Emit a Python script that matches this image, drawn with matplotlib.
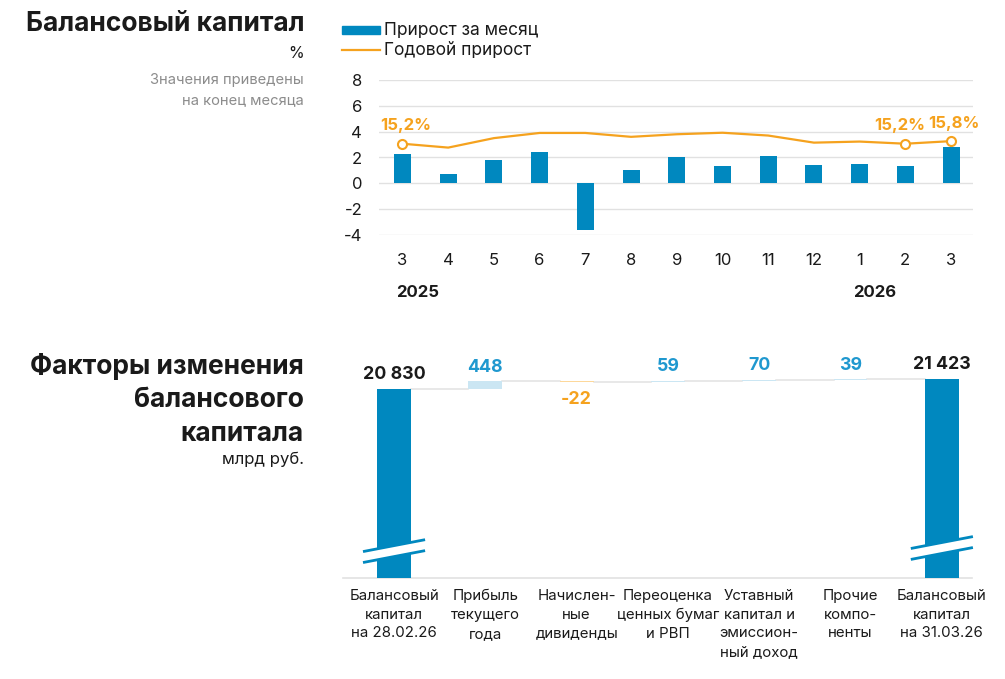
import matplotlib
matplotlib.use('Agg')
import matplotlib.pyplot as plt
from matplotlib.patches import Rectangle, Polygon
from matplotlib.lines import Line2D
import matplotlib.transforms as mtransforms

plt.rcParams['font.family'] = ['Inter', 'DejaVu Sans']

# ---------------- data ----------------
months = ['3', '4', '5', '6', '7', '8', '9', '10', '11', '12', '1', '2', '3']
monthly_growth = [2.25, 0.75, 1.8, 2.4, -3.6, 1.0, 2.0, 1.35, 2.15, 1.4, 1.5, 1.35, 2.85]
annual_growth = [15.2, 14.3, 16.5, 17.7, 17.7, 16.8, 17.4, 17.75, 17.1, 15.45, 15.7, 15.2, 15.8]
years = ['2025', '2026']
year_start_idx = [0, 10]
labeled_points = [0, 11, 12]
y_ticks = [-4, -2, 0, 2, 4, 6, 8]

factor_labels = [
    'Балансовый\nкапитал\nна 28.02.26',
    'Прибыль\nтекущего\nгода',
    'Начислен-\nные\nдивиденды',
    'Переоценка\nценных бумаг\nи РВП',
    'Уставный\nкапитал и\nэмиссион-\nный доход',
    'Прочие\nкомпо-\nненты',
    'Балансовый\nкапитал\nна 31.03.26',
]
factor_values = [20830, 448, -22, 59, 70, 39, 21423]
factor_is_total = [True, False, False, False, False, False, True]

# ---------------- style ----------------
BLUE = '#0088BF'
ORANGE = '#F5A21E'
LIGHT_BLUE = '#CBE6F3'
LIGHT_ORANGE = '#FDD89B'
LABEL_BLUE = '#1F98CF'
GRID = '#E1E1E1'
TXT = '#1A1A1A'
GREY = '#8C8C8C'

W, H = 1005, 679
fig = plt.figure(figsize=(W / 100, H / 100), dpi=100)


def fx(x):
    return x / W


def fy(y):
    return 1 - y / H


# ---------------- left titles ----------------
fig.text(fx(304), fy(24), 'Балансовый капитал', ha='right', va='center',
         fontsize=19, fontweight='bold', color=TXT)
fig.text(fx(304), fy(54), '%', ha='right', va='center', fontsize=11.5, color=TXT)
fig.text(fx(304), fy(80), 'Значения приведены', ha='right', va='center',
         fontsize=10.6, color=GREY)
fig.text(fx(304), fy(100), 'на конец месяца', ha='right', va='center',
         fontsize=10.6, color=GREY)

for txt, yy in zip(['Факторы изменения', 'балансового', 'капитала'], [366, 400, 434]):
    fig.text(fx(304), fy(yy), txt, ha='right', va='center',
             fontsize=19, fontweight='bold', color=TXT)
fig.text(fx(304), fy(459), 'млрд руб.', ha='right', va='center', fontsize=12, color=TXT)

# ---------------- legend ----------------
fig.patches.append(Rectangle((fx(342), fy(34)), fx(380) - fx(342), fy(26) - fy(34),
                             transform=fig.transFigure, color=BLUE))
fig.text(fx(384), fy(30), 'Прирост за месяц', ha='left', va='center', fontsize=12.5, color=TXT)
fig.lines.append(Line2D([fx(342), fx(380)], [fy(50), fy(50)], transform=fig.transFigure,
                        color=ORANGE, lw=1.6))
fig.text(fx(384), fy(50), 'Годовой прирост', ha='left', va='center', fontsize=12.5, color=TXT)

# ---------------- top chart ----------------
ax = fig.add_axes([fx(379), fy(235), fx(973) - fx(379), fy(80) - fy(235)])
x = list(range(len(months)))
ax.bar(x, monthly_growth, width=0.37, color=BLUE, zorder=3)
ax.set_xlim(-0.514, 12.48)
ax.set_ylim(-4, 8)
ax.set_yticks(y_ticks)
ax.set_yticklabels([str(t) for t in y_ticks])
ax.set_xticks(x)
ax.set_xticklabels(months)
ax.yaxis.grid(True, color=GRID, lw=1, zorder=0)
ax.set_axisbelow(True)
for s in ax.spines.values():
    s.set_visible(False)
ax.tick_params(axis='y', length=0, pad=12, labelsize=12, labelcolor=TXT)
ax.tick_params(axis='x', length=0, pad=13, labelsize=12, labelcolor=TXT)

trans = mtransforms.blended_transform_factory(ax.transData, ax.transAxes)
for yr, idx in zip(years, year_start_idx):
    ax.text(idx - 0.15, -0.368, yr, transform=trans, ha='left', va='center',
            fontsize=12, fontweight='bold', color=TXT)

ax2 = ax.twinx()
ax2.set_ylim(-6, 30)
ax2.axis('off')
ax2.plot(x, annual_growth, color=ORANGE, lw=1.6, zorder=4)
ax2.plot([x[i] for i in labeled_points], [annual_growth[i] for i in labeled_points],
         'o', ms=6.5, mfc='white', mec=ORANGE, mew=1.5, zorder=5)
label_dx = [2, -4, 2]
for i, dx in zip(labeled_points, label_dx):
    ax2.annotate(f'{annual_growth[i]:.1f}%'.replace('.', ','), (x[i], annual_growth[i]),
                 xytext=(dx, 13), textcoords='offset points', ha='center', va='center',
                 fontsize=12, fontweight='bold', color=ORANGE)

# ---------------- waterfall ----------------
bx = fig.add_axes([fx(343), fy(578), fx(972) - fx(343), fy(340) - fy(578)])
bx.set_xlim(-0.559, 6.33)
bx.set_ylim(9622, 23736)
for s in ['top', 'left', 'right']:
    bx.spines[s].set_visible(False)
bx.spines['bottom'].set_color(GRID)
bx.spines['bottom'].set_linewidth(1.2)
bx.set_yticks([])
bx.set_xticks(range(len(factor_labels)))
bx.set_xticklabels(factor_labels, fontsize=10.8, color=TXT, linespacing=1.42, va='top')
bx.tick_params(axis='x', length=0, pad=8)

bw = 0.37
cum = 0
levels = []
for i, (v, tot) in enumerate(zip(factor_values, factor_is_total)):
    if tot:
        bx.bar(i, v, width=bw, color=BLUE, zorder=3)
        cum = v
        bx.annotate(f'{v:,}'.replace(',', ' '), (i, v), xytext=(0, 10.5),
                    textcoords='offset points', ha='center', va='center',
                    fontsize=12.8, fontweight='bold', color=TXT)
    else:
        col = LIGHT_BLUE if v >= 0 else LIGHT_ORANGE
        bx.bar(i, v, bottom=cum, width=bw, color=col, zorder=3)
        if v >= 0:
            bx.annotate(f'{v}', (i, cum + v), xytext=(0, 10), textcoords='offset points',
                        ha='center', va='center', fontsize=12.8, fontweight='bold',
                        color=LABEL_BLUE)
        else:
            bx.annotate(f'{v}', (i, cum + v), xytext=(0, -13),
                        textcoords='offset points', ha='center', va='center',
                        fontsize=12.8, fontweight='bold', color=ORANGE)
        cum = cum + v
    levels.append(cum)

for i in range(len(factor_values) - 1):
    bx.plot([i + bw / 2, i + 1 - bw / 2], [levels[i], levels[i]], color=GRID, lw=1.1, zorder=2)

# axis break marks on total bars
btrans = mtransforms.blended_transform_factory(bx.transData, bx.transAxes)
for i, yc in [(0, 0.113), (6, 0.126)]:
    hw, hg, sl = 0.34, 0.023, 0.025
    poly = Polygon([(i - hw, yc + hg - sl), (i + hw, yc + hg + sl),
                    (i + hw, yc - hg + sl), (i - hw, yc - hg - sl)],
                   closed=True, transform=btrans, facecolor='white', edgecolor='none',
                   zorder=5, clip_on=False)
    bx.add_patch(poly)
    for sgn in (1, -1):
        bx.plot([i - hw, i + hw], [yc + sgn * hg - sl, yc + sgn * hg + sl], transform=btrans,
                color=BLUE, lw=2, zorder=6, clip_on=False, solid_capstyle='butt')

fig.savefig('out.png', dpi=100, facecolor='white')
